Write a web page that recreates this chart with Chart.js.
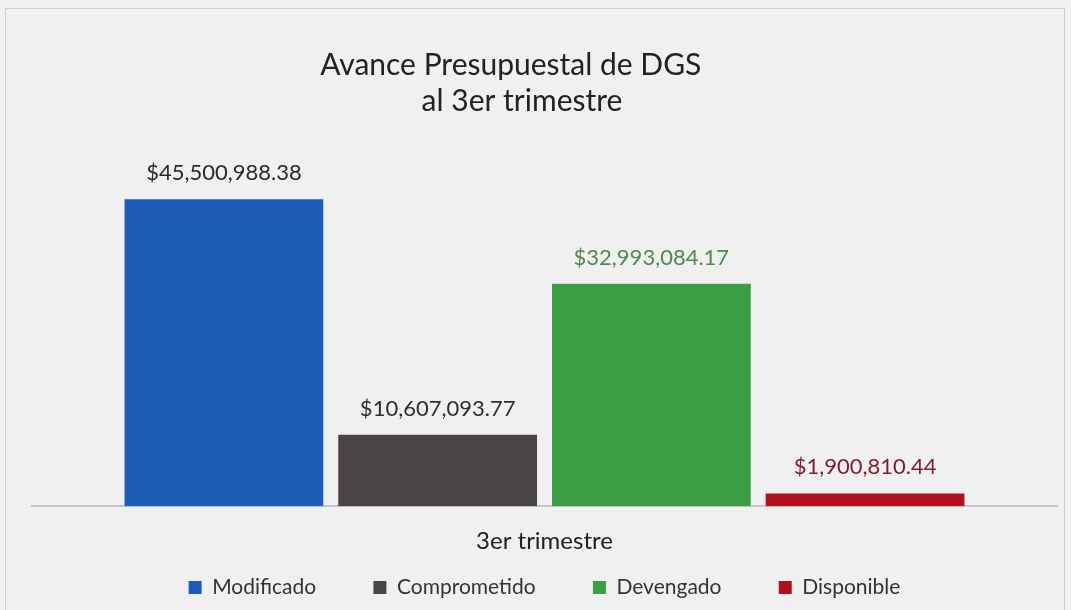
<!DOCTYPE html>
<html>
<head>
<meta charset="utf-8">
<script src="https://cdn.jsdelivr.net/npm/chart.js@4/dist/chart.umd.min.js"></script>
<style>
  html, body { margin: 0; padding: 0; background: #f1f0f0; }
  #wrap { position: relative; width: 1071px; height: 610px; overflow: hidden; }
  #frame { position: absolute; left: 5px; top: 8px; width: 1060px; height: 640px;
           border: 1px solid #cfcfcf; box-sizing: border-box; }
  canvas { position: absolute; left: 0; top: 0; }
</style>
</head>
<body>
<div id="wrap">
  <div id="frame"></div>
  <canvas id="chart" width="1071" height="610"></canvas>
</div>
<script>
/* ---------- data ---------- */
const categories = ['3er trimestre'];
const seriesNames = ['Modificado', 'Comprometido', 'Devengado', 'Disponible'];
const seriesValues = [45500988.38, 10607093.77, 32993084.17, 1900810.44];
const titleLines = ['Avance Presupuestal de DGS', 'al 3er trimestre'];
const barColors = ['#1b5db6', '#4a4446', '#3b9f46', '#b2101f'];
const labelColors = ['#2a2a2a', '#2e2e2e', '#4d8a4f', '#7c1c30'];

const FONT = 'Lato, "Noto Sans", sans-serif';

function money(v) {
    return '$' + v.toLocaleString('en-US', { minimumFractionDigits: 2, maximumFractionDigits: 2 });
}

/* value labels above each bar */
const valueLabels = {
    id: 'valueLabels',
    afterDatasetsDraw(chart) {
        const ctx = chart.ctx;
        ctx.save();
        ctx.font = '22px ' + FONT;
        ctx.textAlign = 'center';
        ctx.textBaseline = 'bottom';
        chart.data.datasets.forEach((ds, i) => {
            const bar = chart.getDatasetMeta(i).data[0];
            ctx.fillStyle = labelColors[i];
            ctx.fillText(money(ds.data[0]), bar.x, bar.y - 15);
        });
        ctx.restore();
    }
};

const datasets = seriesNames.map((name, i) => ({
    label: name,
    data: [seriesValues[i]],
    backgroundColor: barColors[i],
    borderColor: barColors[i],
    borderWidth: 0,
    barPercentage: 0.93,
    categoryPercentage: 0.834
}));

new Chart(document.getElementById('chart'), {
    type: 'bar',
    data: { labels: categories, datasets: datasets },
    plugins: [valueLabels],
    options: {
        responsive: false,
        animation: false,
        layout: { padding: { left: 32, right: 14, top: 0, bottom: 2 } },
        plugins: {
            title: {
                display: true,
                // the original title sits a bit left of centre, trailing spaces nudge it
                text: [titleLines[0] + '\u2003\u2003\u2003', titleLines[1] + '\u2003\u2003'],
                color: '#222',
                font: { family: FONT, size: 30, weight: 'normal', lineHeight: 1.2 },
                padding: { top: 47, bottom: 50 }
            },
            legend: {
                position: 'bottom',
                labels: {
                    color: '#333',
                    font: { family: FONT, size: 21 },
                    boxWidth: 13,
                    boxHeight: 13,
                    padding: 10,
                    generateLabels(chart) {
                        const items = Chart.defaults.plugins.legend.labels.generateLabels(chart);
                        // wider gap between legend entries
                        items.forEach((it, i) => {
                            if (i < items.length - 1) it.text = it.text + '\u2003\u2003\u2003';
                        });
                        return items;
                    }
                }
            },
            tooltip: { enabled: false }
        },
        scales: {
            x: {
                grid: { display: false },
                border: { display: true, color: '#c6c6c6', width: 2 },
                ticks: { color: '#222', font: { family: FONT, size: 24 }, padding: 13 },
                afterFit(scale) { scale.height -= 2; }
            },
            y: {
                display: false,
                min: 0,
                max: 50000000
            }
        }
    }
});
</script>
</body>
</html>
